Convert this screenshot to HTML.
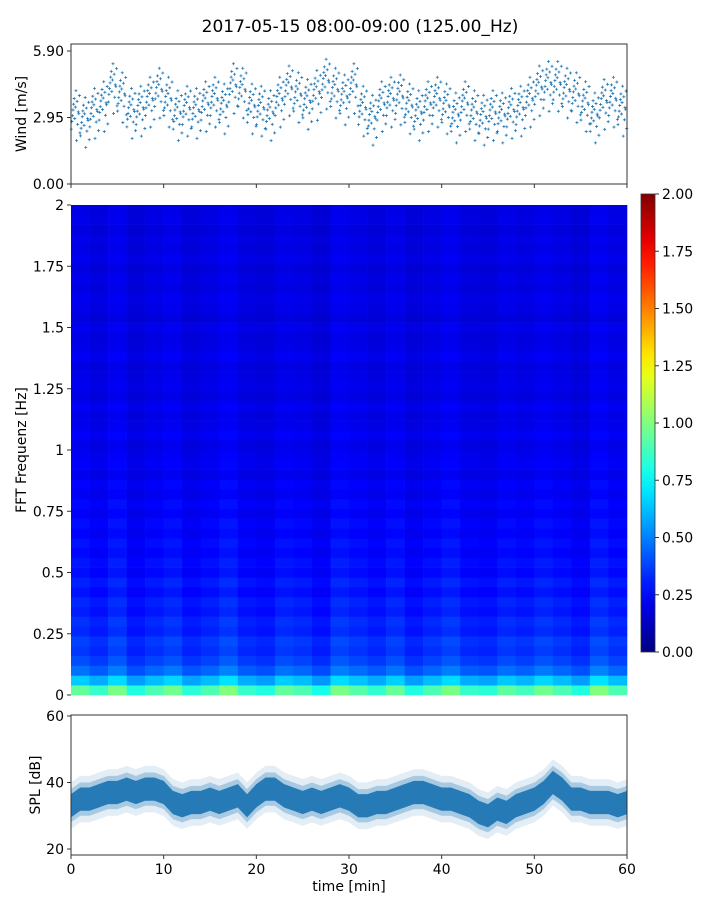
<!DOCTYPE html>
<html><head><meta charset="utf-8">
<style>
body{margin:0;background:#fff;font-family:"Liberation Sans",sans-serif;}
svg text{font-family:"DejaVu Sans","Liberation Sans",sans-serif;fill:#000;}
</style></head>
<body>
<svg id="c" width="720" height="900" xmlns="http://www.w3.org/2000/svg">
<text x="360" y="32" font-size="17" text-anchor="middle">2017-05-15 08:00-09:00 (125.00_Hz)</text>
</svg>
<script>
const wind = [3.2,2.9,3.3,3.6,4.4,4.0,3.3,3.4,3.8,4.2,3.8,3.2,3.4,3.3,3.6,3.8,3.5,4.4,4.2,3.5,3.4,3.2,3.8,4.3,4.0,3.7,4.1,4.6,4.2,3.9,4.4,3.4,3.0,3.6,3.8,3.9,3.5,3.2,3.6,3.8,3.5,3.1,3.6,3.2,3.0,3.2,3.1,3.3,3.4,3.8,4.3,4.5,4.5,4.2,4.0,3.6,3.1,3.7,3.8,3.4];
const windTicks = [0, 2.95, 5.90];
const windTickLabels = ["0.00","2.95","5.90"];
const spl = [33,35,35,36,37,37,38,37,38,38,37,34,33,34,34,35,34,35,36,33,36,38,38,36,35,34,35,34,35,36,35,33,33,34,34,35,36,37,37,36,35,35,34,33,31,30,32,31,33,34,35,37,40,38,35,35,34,34,34,33,34];
const splTicks = [20,40,60];
const timeTicks = [0,10,20,30,40,50,60];
const freqRowProfile = [0.9,0.62,0.45,0.38,0.34,0.36,0.31,0.33,0.29,0.31,0.27,0.3,0.26,0.28,0.25,0.27,0.24,0.26,0.23,0.25,0.22,0.24,0.21,0.23,0.22,0.2,0.23,0.21,0.2,0.22,0.19,0.21,0.2,0.19,0.22,0.2,0.19,0.21,0.18,0.2,0.21,0.19,0.2,0.18,0.21,0.19,0.2,0.18,0.2,0.19];
const timeColFactor = [1.05,0.95,1.1,0.9,1.0,1.08,0.92,1.0,1.12,0.95,0.9,1.05,1.0,0.88,1.1,1.02,0.94,1.06,0.9,1.0,1.1,0.95,0.92,1.04,0.98,1.08,1.0,0.9,1.12,1.0];
const freqTicks = [0,0.25,0.5,0.75,1,1.25,1.5,1.75,2];
const freqTickLabels = ["0","0.25","0.5","0.75","1","1.25","1.5","1.75","2"];
const cbTicks = ["0.00","0.25","0.50","0.75","1.00","1.25","1.50","1.75","2.00"];

const svg = document.getElementById('c');
const NS = 'http://www.w3.org/2000/svg';
function mk(tag, attrs, parent){const e=document.createElementNS(NS,tag);for(const k in attrs)e.setAttribute(k,attrs[k]);(parent||svg).appendChild(e);return e;}
const X0=71,X1=627;
const xT = t => X0 + t/60*(X1-X0);
function jet(v){const t=Math.max(0,Math.min(1,v));
 const r=Math.max(0,Math.min(1,1.5-Math.abs(4*t-3))),g=Math.max(0,Math.min(1,1.5-Math.abs(4*t-2))),b=Math.max(0,Math.min(1,1.5-Math.abs(4*t-1)));
 return `rgb(${Math.round(r*255)},${Math.round(g*255)},${Math.round(b*255)})`;}

// ---- Wind panel
const WY0=44,WY1=184,wMax=6.21;
const yW = v => WY1 - v/wMax*(WY1-WY0);
const jitter=[-0.9,-0.5,-0.2,0.1,0.4,0.7,-0.35,0.25,1.1,-1.5,0.55,-0.65,0.0,-0.1,0.85,-1.1];
const gW = mk('g',{});


wind.forEach((v,i)=>{
  jitter.forEach((j,k)=>{
    const x=xT(i+(k+0.5)/jitter.length), y=yW(v+j*0.85);
    const p=mk('path',{d:`M${x-1.5},${y}h3M${x},${y-1.5}v3`,stroke:'#1f77b4','stroke-width':0.8},gW);
    
    
  });
});
const fW=mk('rect',{x:X0,y:WY0,width:X1-X0,height:WY1-WY0,fill:'none',stroke:'#333','stroke-width':1});


windTicks.forEach((v,i)=>{const y=yW(v);mk('line',{x1:X0-4,x2:X0,y1:y,y2:y,stroke:'#333'});
 const t=mk('text',{x:X0-7,y:y+5,'font-size':14,'text-anchor':'end'});t.textContent=windTickLabels[i];
 });
timeTicks.forEach(v=>mk('line',{x1:xT(v),x2:xT(v),y1:WY1,y2:WY1+4,stroke:'#333'}));
const wl=mk('text',{x:0,y:0,'font-size':14,'text-anchor':'middle',transform:`translate(26,114) rotate(-90)`});wl.textContent='Wind [m/s]';


// ---- Spectrogram
const SY0=205,SY1=695;
const yF = f => SY1 - f/2*(SY1-SY0);
const gS=mk('g',{});


const nR=freqRowProfile.length,nC=timeColFactor.length,fStep=2/nR,tStep=60/nC;
for(let r=0;r<nR;r++)for(let c=0;c<nC;c++){
  const v=freqRowProfile[r]*timeColFactor[c];
  const x=xT(c*tStep),y=yF((r+1)*fStep);
  const cell=mk('rect',{x:x,y:y,width:xT((c+1)*tStep)-x+0.3,height:yF(r*fStep)-y+0.3,fill:jet(v/2)},gS);
  
  
}
freqTicks.forEach((f,i)=>{const y=yF(f);mk('line',{x1:X0-4,x2:X0,y1:y,y2:y,stroke:'#333'});
 const t=mk('text',{x:X0-7,y:y+5,'font-size':14,'text-anchor':'end'});t.textContent=freqTickLabels[i];
 });
const sl=mk('text',{x:0,y:0,'font-size':14,'text-anchor':'middle',transform:`translate(26,450) rotate(-90)`});sl.textContent='FFT Frequenz [Hz]';


// ---- Colorbar
const CY0=194,CY1=652,CX=641,CW=14;
const defs=mk('defs',{});const lg=mk('linearGradient',{id:'jg',x1:0,y1:1,x2:0,y2:0},defs);
for(let i=0;i<=20;i++)mk('stop',{offset:i/20,'stop-color':jet(i/20)},lg);
const cb=mk('rect',{x:CX,y:CY0,width:CW,height:CY1-CY0,fill:'url(#jg)',stroke:'#333','stroke-width':0.8});

cbTicks.forEach((l,i)=>{const y=CY1-i/(cbTicks.length-1)*(CY1-CY0);mk('line',{x1:CX+CW,x2:CX+CW+4,y1:y,y2:y,stroke:'#333'});
 const t=mk('text',{x:CX+CW+7,y:y+5,'font-size':14});t.textContent=l;
 });

// ---- SPL panel
const PY0=715,PY1=855,pMin=18.2,pMax=60.3;
const yP = v => PY1 - (v-pMin)/(pMax-pMin)*(PY1-PY0);
function band(spread,op,name){
  let top='',bot='';
  spl.forEach((v,i)=>{const x=xT(i*60/(spl.length-1));top+=(i?'L':'M')+x+','+yP(v+spread);});
  for(let i=spl.length-1;i>=0;i--){const x=xT(i*60/(spl.length-1));bot+='L'+x+','+yP(spl[i]-spread);}
  const p=mk('path',{d:top+bot+'Z',fill:'#1f77b4','fill-opacity':op});
  
}
band(7,0.13,'spl-outer-band');
band(5,0.3,'spl-mid-band');
band(3.5,0.95,'spl-band');
const fP=mk('rect',{x:X0,y:PY0,width:X1-X0,height:PY1-PY0,fill:'none',stroke:'#333','stroke-width':1});

splTicks.forEach(v=>{const y=yP(v);mk('line',{x1:X0-4,x2:X0,y1:y,y2:y,stroke:'#333'});
 const t=mk('text',{x:X0-7,y:y+5,'font-size':14,'text-anchor':'end'});t.textContent=v;
 });
timeTicks.forEach(v=>{const x=xT(v);mk('line',{x1:x,x2:x,y1:PY1,y2:PY1+4,stroke:'#333'});
 const t=mk('text',{x:x,y:PY1+19,'font-size':14,'text-anchor':'middle'});t.textContent=v;
 });
const pl=mk('text',{x:0,y:0,'font-size':14,'text-anchor':'middle',transform:`translate(40,785) rotate(-90)`});pl.textContent='SPL [dB]';

const xl=mk('text',{x:349,y:891,'font-size':14,'text-anchor':'middle'});xl.textContent='time [min]';

</script>
</body></html>
